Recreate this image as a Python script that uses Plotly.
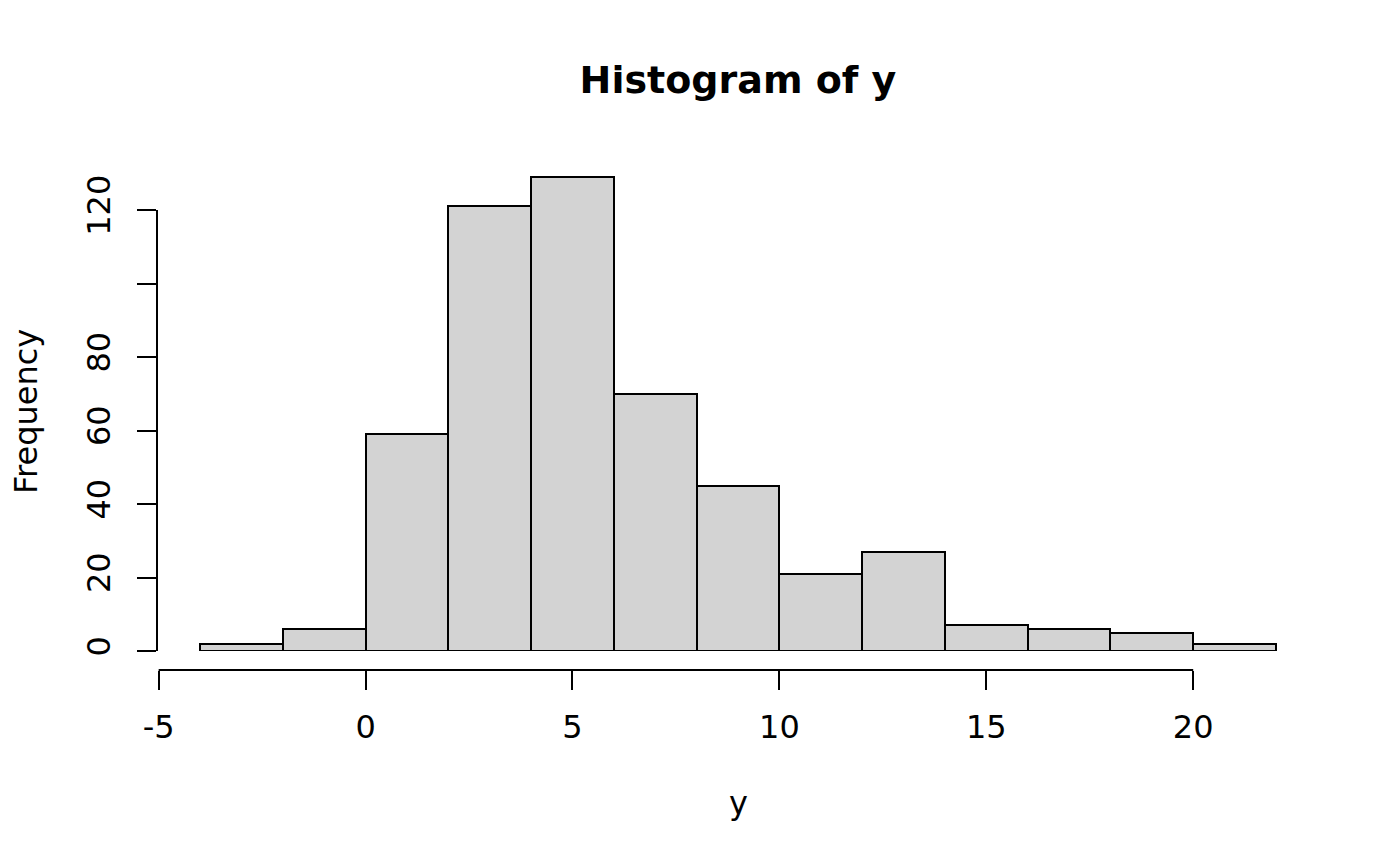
import plotly.graph_objects as go

# histogram of y: bin edges and counts
bin_edges = [-4, -2, 0, 2, 4, 6, 8, 10, 12, 14, 16, 18, 20, 22]
counts = [2, 6, 59, 121, 129, 70, 45, 21, 27, 7, 6, 5, 2]

x_ticks = [-5, 0, 5, 10, 15, 20]
x_tick_text = ["-5", "0", "5", "10", "15", "20"]
y_ticks = [0, 20, 40, 60, 80, 100, 120]
y_tick_text = ["0", "20", "40", "60", "80", "", "120"]

FONT = "DejaVu Sans, Verdana, sans-serif"
W, H = 1400, 866
OFF = 8  # the page body adds an 8px margin
L, R, T, B = 157 - OFF, 81 + OFF, 158 - OFF, 196 + OFF
PW, PH = W - L - R, H - T - B

centers = [(a + b) / 2 for a, b in zip(bin_edges[:-1], bin_edges[1:])]
widths = [b - a for a, b in zip(bin_edges[:-1], bin_edges[1:])]

# R pads the data range by 4% on each side
x_lo, x_hi = bin_edges[0], bin_edges[-1]
x_pad = 0.04 * (x_hi - x_lo)
y_top = max(counts) * 1.04
y_gap = 19 / PH

fig = go.Figure()
fig.add_trace(
    go.Bar(
        x=centers,
        y=counts,
        width=widths,
        marker=dict(color="#d3d3d3", line=dict(color="black", width=2)),
        showlegend=False,
        hoverinfo="x+y",
    )
)

# detached axis lines, spanning only the tick range like base R
fig.add_shape(
    type="line", xref="x", yref="paper",
    x0=x_ticks[0], x1=x_ticks[-1], y0=0, y1=0,
    line=dict(color="black", width=2),
)
fig.add_shape(
    type="line", xref="paper", yref="y",
    x0=0, x1=0, y0=y_ticks[0], y1=y_ticks[-1],
    line=dict(color="black", width=2),
)

fig.update_xaxes(
    range=[x_lo - x_pad, x_hi + x_pad],
    anchor="free",
    position=0,
    showgrid=False,
    zeroline=False,
    showline=False,
    tickmode="array",
    tickvals=x_ticks,
    ticktext=x_tick_text,
    ticks="outside",
    ticklen=19,
    tickwidth=2,
    tickcolor="black",
    ticklabelstandoff=10,
    tickfont=dict(family=FONT, size=32, color="black"),
)
fig.update_yaxes(
    range=[0, y_top],
    domain=[y_gap, 1],
    showgrid=False,
    zeroline=False,
    showline=False,
    tickmode="array",
    tickvals=y_ticks,
    ticktext=y_tick_text,
    tickangle=-90,
    ticks="outside",
    ticklen=19,
    tickwidth=2,
    tickcolor="black",
    ticklabelstandoff=14,
    tickfont=dict(family=FONT, size=32, color="black"),
)

fig.add_annotation(
    text="y", xref="paper", yref="paper",
    x=(738 - 157) / PW,
    y=-(803 - 670) / PH,
    xanchor="center", yanchor="middle", showarrow=False,
    font=dict(family=FONT, size=32, color="black"),
)
fig.add_annotation(
    text="Frequency", xref="paper", yref="paper",
    x=-(157 - 26) / PW,
    y=(670 - 412) / PH,
    xanchor="center", yanchor="middle", textangle=-90, showarrow=False,
    borderpad=0,
    font=dict(family=FONT, size=32, color="black"),
)

fig.update_layout(
    width=W,
    height=H,
    margin=dict(l=L, r=R, t=T, b=B),
    paper_bgcolor="white",
    plot_bgcolor="white",
    bargap=0,
    title=dict(
        text="<b>Histogram of y</b>",
        x=(738 - OFF) / W,
        xanchor="center",
        y=1 - (80 - OFF) / H,
        yanchor="middle",
        yref="container",
        font=dict(family=FONT, size=38, color="black"),
    ),
)

fig.write_html("out.html")
